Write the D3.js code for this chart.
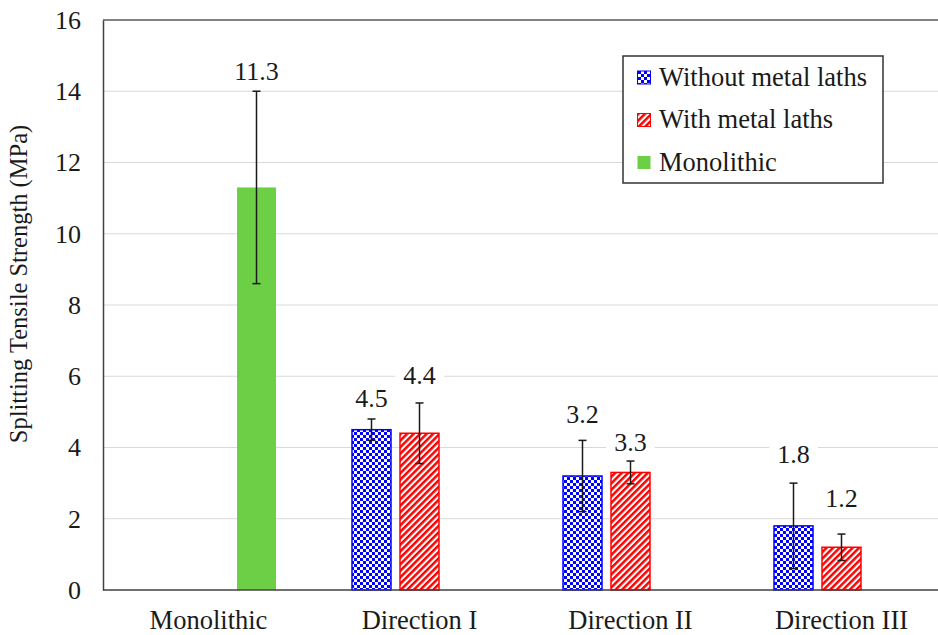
<!DOCTYPE html>
<html>
<head>
<meta charset="utf-8">
<script src="https://cdn.jsdelivr.net/npm/d3@7/dist/d3.min.js"></script>
<style>
  html, body { margin: 0; padding: 0; background: #fff; }
  svg { display: block; font-family: "Liberation Serif", "Times New Roman", serif; }
</style>
</head>
<body>
<svg id="chart" width="938" height="635"></svg>
<script>
// ---- data ----
const categories = ["Monolithic", "Direction I", "Direction II", "Direction III"];
const seriesNames = ["Without metal laths", "With metal laths", "Monolithic"];
const withoutLaths    = [null, 4.5, 3.2, 1.8];
const withoutLathsErr = [null, 0.3, 1.0, 1.2];
const withLaths       = [null, 4.4, 3.3, 1.2];
const withLathsErr    = [null, 0.85, 0.32, 0.37];
const monolithic      = [11.3, null, null, null];
const monolithicErr   = [2.7, null, null, null];
const yTicks = [0, 2, 4, 6, 8, 10, 12, 14, 16];

// ---- layout ----
const svg = d3.select("#chart");
const plot = { left: 103, top: 20, bottom: 590, right: 947 };
const fill = ["url(#checker)", "url(#stripes)", "#6ccf46"];
const stroke = ["#0000ff", "#ff0000", "none"];
const font = "Liberation Serif";
// extra space between an error-bar cap and its value label (px)
const labelGap = [[null, 12, 17, 20], [null, 19, 10, 27], [11, null, null, null]];

const x0 = d3.scaleBand().domain(categories).range([plot.left, plot.right]).paddingInner(0).paddingOuter(0);
const groupW = 135;
const x1 = d3.scaleBand().domain(d3.range(3)).range([0, groupW]).paddingInner(0.1875).paddingOuter(0);
const y = d3.scaleLinear().domain([0, 16]).range([plot.bottom, plot.top]);

// ---- patterns ----
const defs = svg.append("defs");
const chk = defs.append("pattern").attr("id", "checker")
  .attr("patternUnits", "userSpaceOnUse").attr("width", 6).attr("height", 6);
chk.append("rect").attr("width", 6).attr("height", 6).attr("fill", "#fff");
chk.append("rect").attr("width", 3).attr("height", 3).attr("fill", "#0000ff");
chk.append("rect").attr("x", 3).attr("y", 3).attr("width", 3).attr("height", 3).attr("fill", "#0000ff");

const str = defs.append("pattern").attr("id", "stripes")
  .attr("patternUnits", "userSpaceOnUse").attr("width", 4.6).attr("height", 10)
  .attr("patternTransform", "rotate(45)");
str.append("rect").attr("width", 4.6).attr("height", 10).attr("fill", "#fff");
str.append("rect").attr("width", 2.5).attr("height", 10).attr("fill", "#ff0000");

// ---- gridlines ----
svg.append("g").selectAll("line").data(yTicks.filter(t => t > 0 && t < 16)).join("line")
  .attr("x1", plot.left).attr("x2", 938)
  .attr("y1", d => y(d)).attr("y2", d => y(d))
  .attr("stroke", "#d9d9d9").attr("stroke-width", 1);

// top border of plot area
svg.append("line").attr("x1", plot.left).attr("x2", 938)
  .attr("y1", y(16)).attr("y2", y(16)).attr("stroke", "#595959").attr("stroke-width", 1.3);

// ---- y axis ----
const yAxis = d3.axisLeft(y).tickValues(yTicks).tickSize(0).tickPadding(22).tickFormat(d3.format("d"));
const gy = svg.append("g").attr("transform", `translate(${plot.left},0)`).call(yAxis);
gy.attr("font-family", font);
gy.select(".domain").attr("stroke", "#404040").attr("stroke-width", 1.5);
gy.selectAll("text").attr("font-size", 26).attr("fill", "#1a1a1a");

svg.append("text")
  .attr("transform", `translate(27,284) rotate(-90)`)
  .attr("text-anchor", "middle")
  .attr("font-size", 24.5).attr("fill", "#1a1a1a")
  .text("Splitting Tensile Strength (MPa)");

// ---- bars ----
const seriesVals = [withoutLaths, withLaths, monolithic];
const seriesErr = [withoutLathsErr, withLathsErr, monolithicErr];
const rows = [];
seriesVals.forEach((vals, s) => vals.forEach((v, i) => {
  if (v != null) rows.push({ s, i, v, e: seriesErr[s][i], cat: categories[i] });
}));
const bx = d => x0(d.cat) + (x0.bandwidth() - groupW) / 2 + x1(d.s);

svg.append("g").selectAll("rect").data(rows).join("rect")
  .attr("x", d => bx(d)).attr("width", x1.bandwidth())
  .attr("y", d => y(d.v)).attr("height", d => y(0) - y(d.v))
  .attr("fill", d => fill[d.s])
  .attr("stroke", d => stroke[d.s]).attr("stroke-width", 1.5);

// ---- x axis ----
const xAxis = d3.axisBottom(x0).tickSize(0).tickPadding(20);
const gx = svg.append("g").attr("transform", `translate(0,${plot.bottom})`).call(xAxis);
gx.attr("font-family", font);
gx.select(".domain").remove();
svg.append("line").attr("x1", plot.left).attr("x2", 938)
  .attr("y1", plot.bottom).attr("y2", plot.bottom).attr("stroke", "#404040").attr("stroke-width", 1.5);
gx.selectAll("text").attr("font-size", 26.5).attr("fill", "#1a1a1a");

// ---- error bars ----
const eg = svg.append("g").attr("stroke", "#1a1a1a").attr("stroke-width", 1.5);
rows.forEach(d => {
  const cx = bx(d) + x1.bandwidth() / 2;
  const yt = y(d.v + d.e), yb = y(d.v - d.e);
  eg.append("line").attr("x1", cx).attr("x2", cx).attr("y1", yt).attr("y2", yb);
  eg.append("line").attr("x1", cx - 4).attr("x2", cx + 4).attr("y1", yt).attr("y2", yt);
  eg.append("line").attr("x1", cx - 4).attr("x2", cx + 4).attr("y1", yb).attr("y2", yb);
});

// ---- value labels ----
const lg = svg.append("g");
rows.forEach(d => {
  const cx = bx(d) + x1.bandwidth() / 2;
  const base = y(d.v + d.e) - labelGap[d.s][d.i];
  const g = lg.append("g");
  const bg = g.append("rect").attr("fill", "#fff");
  const t = g.append("text").attr("x", cx).attr("y", base)
    .attr("text-anchor", "middle").attr("font-size", 26).attr("fill", "#1a1a1a")
    .text(d3.format(".1f")(d.v));
  const b = t.node().getBBox();
  bg.attr("x", b.x - 8).attr("y", b.y).attr("width", b.width + 16).attr("height", b.height);
});

// ---- legend ----
const leg = svg.append("g").attr("transform", "translate(623,56)");
leg.append("rect").attr("width", 260).attr("height", 127)
  .attr("fill", "#fff").attr("stroke", "#333").attr("stroke-width", 1.5);
seriesNames.forEach((name, s) => {
  const cy = 21 + s * 42.5;
  leg.append("rect").attr("x", 14.5).attr("y", cy - 6).attr("width", 13).attr("height", 13)
    .attr("fill", fill[s]).attr("stroke", stroke[s]).attr("stroke-width", 1);
  leg.append("text").attr("x", 36).attr("y", cy + 8.5)
    .attr("font-size", 26.5).attr("fill", "#1a1a1a").text(name);
});
</script>
</body>
</html>
